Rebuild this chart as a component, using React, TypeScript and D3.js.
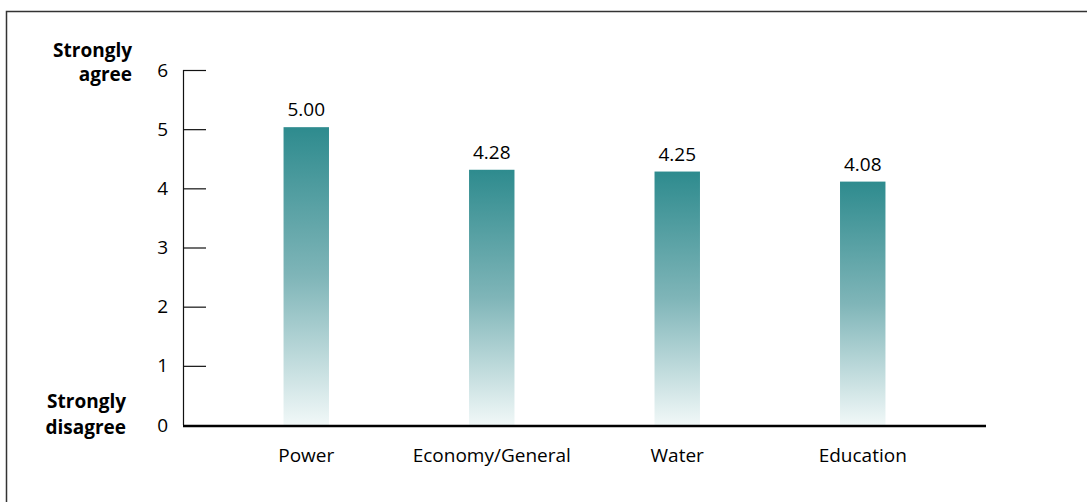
import * as d3 from 'd3';

const CATEGORIES = ['Power', 'Economy/General', 'Water', 'Education'];
const VALUES = [5.0, 4.28, 4.25, 4.08];
const Y_TICKS = [0, 1, 2, 3, 4, 5, 6];

const WIDTH = 1087;
const HEIGHT = 502;
const AXIS_X = 183;
const AXIS_END = 986;
const Y_TOP = 70;
const Y_ZERO = 425;
const FONT = '"Open Sans", "Noto Sans", sans-serif';

export default function App() {
  const x = d3
    .scaleBand<string>()
    .domain(CATEGORIES)
    .range([AXIS_X, AXIS_END])
    .paddingInner(0.755)
    .paddingOuter(0.542);
  const y = d3.scaleLinear().domain([0, 6]).range([Y_ZERO, Y_TOP]);

  return (
    <svg
      width={WIDTH}
      height={HEIGHT}
      style={{ position: 'absolute', left: 0, top: 0, background: '#fff' }}
      fontFamily={FONT}
    >
      <defs>
        <linearGradient id="barGrad" x1="0" y1="0" x2="0" y2="1">
          <stop offset="0%" stopColor="#2e8b8e" />
          <stop offset="50%" stopColor="#7fb5b8" />
          <stop offset="100%" stopColor="#f1f8f8" />
        </linearGradient>
      </defs>

      {/* frame */}
      <path d={`M6.5,${HEIGHT + 2} V11.5 H${WIDTH + 2}`} fill="none" stroke="#333" strokeWidth={1.5} />

      {/* bars */}
      {CATEGORIES.map((c, i) => (
        <g key={c}>
          <rect
            x={x(c)}
            y={y(VALUES[i]) - 2}
            width={x.bandwidth()}
            height={Y_ZERO - y(VALUES[i]) + 2}
            fill="url(#barGrad)"
          />
          <text
            x={(x(c) ?? 0) + x.bandwidth() / 2}
            y={y(VALUES[i]) - 13}
            textAnchor="middle"
            fontSize={19}
            fill="#000"
          >
            {VALUES[i].toFixed(2)}
          </text>
          <text
            x={(x(c) ?? 0) + x.bandwidth() / 2}
            y={Y_ZERO + 37}
            textAnchor="middle"
            fontSize={19}
            fill="#000"
          >
            {c}
          </text>
        </g>
      ))}

      {/* y axis */}
      <line x1={AXIS_X + 0.5} x2={AXIS_X + 0.5} y1={Y_TOP} y2={Y_ZERO} stroke="#111" strokeWidth={1.2} />
      {Y_TICKS.map((t) => (
        <g key={t}>
          {t !== 0 && (
            <line x1={AXIS_X} x2={AXIS_X + 23} y1={y(t) + 0.5} y2={y(t) + 0.5} stroke="#111" strokeWidth={1.2} />
          )}
          <text x={168} y={y(t)} dy="0.35em" textAnchor="end" fontSize={19} fill="#000">
            {t}
          </text>
        </g>
      ))}

      {/* baseline */}
      <line x1={AXIS_X} x2={AXIS_END} y1={Y_ZERO + 1} y2={Y_ZERO + 1} stroke="#000" strokeWidth={2.5} />

      {/* scale end labels */}
      <g fontWeight={700} fontSize={19} fill="#000" textAnchor="end">
        <text x={132} y={57}>Strongly</text>
        <text x={132} y={81}>agree</text>
        <text x={126} y={408}>Strongly</text>
        <text x={126} y={434}>disagree</text>
      </g>
    </svg>
  );
}
